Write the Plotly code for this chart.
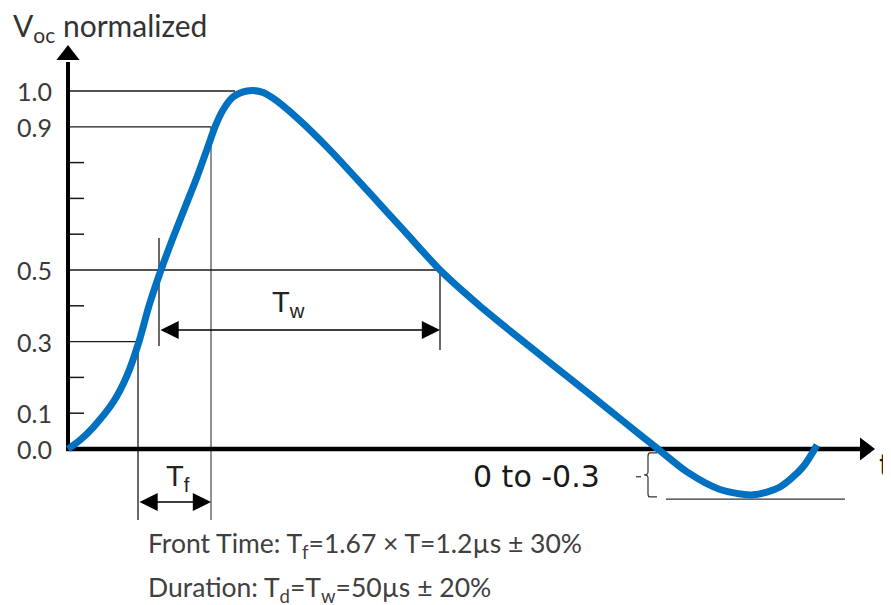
import plotly.graph_objects as go

# ---- data (schematic waveform, t in arbitrary units, V normalized) ----
curve_t = [0, 12, 25, 45, 59, 71, 81, 93, 105, 117, 129, 140, 147, 155, 165, 179, 194, 205,
           229, 262, 300, 336, 372, 410, 439, 472, 505, 539, 572, 590, 619, 652, 685, 712,
           735, 749]
curve_v = [0.0, 0.025, 0.06, 0.13, 0.205, 0.30, 0.40, 0.50, 0.59, 0.675, 0.76, 0.845, 0.90,
           0.947, 0.983, 1.0, 0.997, 0.98, 0.925, 0.835, 0.72, 0.61, 0.50, 0.404, 0.337,
           0.263, 0.19, 0.114, 0.04, 0.0, -0.064, -0.113, -0.128, -0.106, -0.05, 0.011]

tick_label_vals = [0.0, 0.1, 0.3, 0.5, 0.9, 1.0]
tick_labels = ["0.0", "0.1", "0.3", "0.5", "0.9", "1.0"]
minor_tick_vals = [0.1, 0.2, 0.4, 0.6, 0.7, 0.8]

# characteristic times (t units) where the curve reaches the levels
t_03, t_05, t_09, t_peak, t_05_fall = 70, 91, 143, 167, 372
trough_v = -0.128

title_text = "V<sub>oc</sub> normalized"
note1 = "Front Time: T<sub>f</sub>=1.67 × T=1.2µs ± 30%"
note2 = "Duration: T<sub>d</sub>=T<sub>w</sub>=50µs ± 20%"
undershoot_text = "0 to -0.3"

# ---- layout frame (page body has an 8px margin) ----
X0, X1 = -60, 831
Y1 = 441 / 358
Y0 = (441 - 605) / 358
PX_Y = 1 / 358.0  # one pixel in y units

fig = go.Figure()

line_col = "#1a1a1a"
shapes = []

def seg(x0, y0, x1, y1, w=1.3, c=line_col):
    shapes.append(dict(type="line", x0=x0, y0=y0, x1=x1, y1=y1, xref="x", yref="y",
                       line=dict(color=c, width=w), layer="below"))

# guide lines
seg(0, 1.0, t_peak, 1.0)
seg(0, 0.9, t_09, 0.9)
seg(t_09, 0.9, t_09, -0.198, c="#555")
seg(0, 0.5, t_05_fall, 0.5)
seg(t_05, 0.5 + 32 * PX_Y, t_05, 0.5 - 76 * PX_Y)
seg(t_05_fall, 0.5, t_05_fall, 0.5 - 80 * PX_Y)
seg(0, 0.3, t_03, 0.3)
seg(t_03, 0.3, t_03, -0.198)
# minor ticks on y axis
for v in minor_tick_vals:
    seg(0, v, 16, v, w=1.5)
# trough reference line
seg(598, trough_v - 0.012, 777, trough_v - 0.012, w=1.3, c="#333")
# brace
bx = 580
top, bot = -0.011, -0.134
mid = (top + bot) / 2
brace = (f"M {bx+9},{top} L {bx+2},{top} Q {bx},{top} {bx},{top-0.01} "
         f"L {bx},{mid+0.008} Q {bx},{mid} {bx-4},{mid} Q {bx},{mid} {bx},{mid-0.008} "
         f"L {bx},{bot+0.01} Q {bx},{bot} {bx+2},{bot} L {bx+9},{bot}")
shapes.append(dict(type="path", path=brace, xref="x", yref="y", line=dict(color="#333", width=1.2)))
seg(bx - 12, mid - 0.005, bx - 7, mid - 0.005, w=1.2, c="#333")

# axes
seg(0, 0, 0, (449 - 62) / 358, w=4, c="black")
seg(-2, 0, 792, 0, w=4.5, c="black")

fig.update_layout(shapes=shapes)

# waveform
fig.add_trace(go.Scatter(x=curve_t, y=curve_v, mode="lines",
                         line=dict(color="#0070C0", width=7, shape="spline", smoothing=0.8),
                         hoverinfo="skip", showlegend=False))

# axis arrowheads
fig.add_trace(go.Scatter(x=[0], y=[(449 - 55) / 358], mode="markers",
                         marker=dict(symbol="triangle-up", size=20, color="black"),
                         hoverinfo="skip", showlegend=False))
fig.add_trace(go.Scatter(x=[797], y=[0], mode="markers",
                         marker=dict(symbol="triangle-right", size=20, color="black"),
                         hoverinfo="skip", showlegend=False))

ann = []
# tick labels
for v, s in zip(tick_label_vals, tick_labels):
    ann.append(dict(x=-14, y=v, text=s, showarrow=False, xanchor="right", yanchor="middle",
                    font=dict(family="Lato", size=25, color="#3a3a3a")))
# title
ann.append(dict(x=-57, y=(449 - 27) / 358, text=title_text, showarrow=False, xanchor="left",
                yanchor="middle", font=dict(family="Lato", size=30, color="#333")))
# t label
ann.append(dict(x=809, y=-0.045, text="t", showarrow=False, xanchor="left", yanchor="middle",
                font=dict(family="DejaVu Sans", size=30, color="#222")))
# double arrows
tw_y = 0.5 - 60 * PX_Y
ann.append(dict(x=t_05_fall, y=tw_y, ax=t_05, ay=tw_y, axref="x", ayref="y", xref="x", yref="y",
                text="", showarrow=True, arrowside="end+start", arrowhead=2, arrowsize=2.8,
                arrowwidth=1.3, arrowcolor="black", standoff=0, startstandoff=0))
tf_y = -53 * PX_Y
ann.append(dict(x=t_09, y=tf_y, ax=t_03, ay=tf_y, axref="x", ayref="y", xref="x", yref="y",
                text="", showarrow=True, arrowside="end+start", arrowhead=2, arrowsize=2.8,
                arrowwidth=1.3, arrowcolor="black", standoff=0, startstandoff=0))
ann.append(dict(x=220, y=tw_y + 0.072, text="T<sub>w</sub>", showarrow=False,
                font=dict(family="Liberation Sans", size=29, color="#222")))
ann.append(dict(x=110, y=tf_y + 0.066, text="T<sub>f</sub>", showarrow=False,
                font=dict(family="Liberation Sans", size=29, color="#222")))
# undershoot label
ann.append(dict(x=534, y=mid - 0.004, text=undershoot_text, showarrow=False, xanchor="right",
                yanchor="middle", font=dict(family="DejaVu Sans", size=30, color="#1a1a1a")))
# notes
ann.append(dict(x=78, y=(449 - 545) / 358, text=note1, showarrow=False, xanchor="left",
                yanchor="middle", font=dict(family="Lato", size=26.5, color="#404040")))
ann.append(dict(x=78, y=(449 - 589) / 358, text=note2, showarrow=False, xanchor="left",
                yanchor="middle", font=dict(family="Lato", size=26.5, color="#404040")))

fig.update_layout(
    annotations=ann,
    width=891, height=605,
    margin=dict(l=0, r=0, t=0, b=0),
    paper_bgcolor="white", plot_bgcolor="white",
    xaxis=dict(range=[X0, X1], visible=False, fixedrange=True),
    yaxis=dict(range=[Y0, Y1], visible=False, fixedrange=True),
)

fig.write_html("out.html")
